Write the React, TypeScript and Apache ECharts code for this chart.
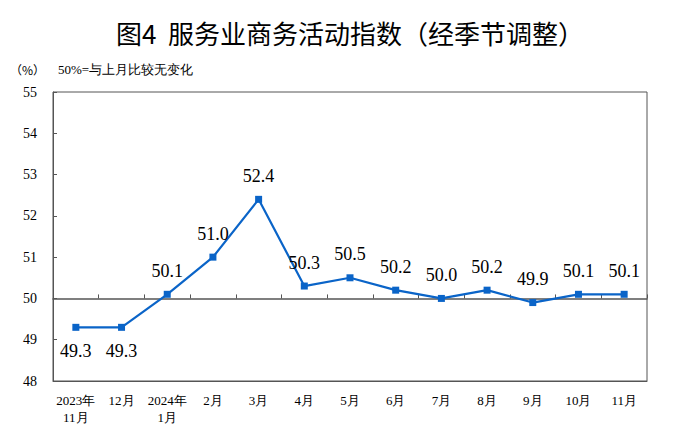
import React, { useEffect, useRef } from "react";
import * as echarts from "echarts";

const categories = [
  "2023年\n11月", "12月", "2024年\n1月", "2月", "3月", "4月", "5月",
  "6月", "7月", "8月", "9月", "10月", "11月",
];
const values = [49.3, 49.3, 50.1, 51.0, 52.4, 50.3, 50.5, 50.2, 50.0, 50.2, 49.9, 50.1, 50.1];
const labelBelow = [true, true, false, false, false, false, false, false, false, false, false, false, false];
const titleText = "图4  服务业商务活动指数（经季节调整）";
const unitText = "（%）";
const noteText = "50%=与上月比较无变化";

const SERIF = "Liberation Serif";

export default function App() {
  const ref = useRef<HTMLDivElement>(null);
  useEffect(() => {
    if (!ref.current) return;
    const chart = echarts.init(ref.current, null, { renderer: "svg" });
    const gridTop = 92, gridBottom = 53;
    const h = 434 - gridTop - gridBottom;
    const yMin = 48, yMax = 55;
    const midOffset = -((50 - yMin) / (yMax - yMin)) * h;
    chart.setOption({
      animation: false,
      backgroundColor: "#fff",
      title: {
        text: titleText,
        left: "center",
        top: 14,
        textStyle: { fontFamily: "Noto Sans CJK SC", fontSize: 26, fontWeight: "normal", color: "#000" },
      },
      graphic: [
        { type: "text", left: 10, top: 63, style: { text: unitText, fontFamily: "Noto Sans CJK SC", fontSize: 12, fill: "#000" } },
        { type: "text", left: 58, top: 63, style: { text: noteText, fontFamily: SERIF, fontSize: 13, fill: "#000" } },
      ],
      grid: { left: 53, right: 53, top: gridTop, bottom: gridBottom, show: true, borderColor: "#555", borderWidth: 1 },
      xAxis: [
        {
          type: "category",
          data: categories,
          boundaryGap: true,
          axisLine: { show: true, lineStyle: { color: "#555" } },
          axisTick: { show: false },
          axisLabel: { color: "#000", fontFamily: SERIF, fontSize: 13, margin: 11, lineHeight: 17, interval: 0 },
        },
        {
          type: "category",
          data: categories,
          position: "bottom",
          offset: midOffset,
          boundaryGap: true,
          axisLine: { show: true, lineStyle: { color: "#555", width: 1.5 } },
          axisTick: { show: true, inside: true, length: 4, lineStyle: { color: "#555" }, interval: 0 },
          axisLabel: { show: false },
        },
      ],
      yAxis: {
        type: "value",
        min: yMin,
        max: yMax,
        interval: 1,
        splitLine: { show: false },
        axisLine: { show: true, lineStyle: { color: "#555" } },
        axisTick: { show: true, inside: true, length: 4, lineStyle: { color: "#555" } },
        axisLabel: { color: "#000", fontFamily: SERIF, fontSize: 14, margin: 16 },
      },
      series: [
        {
          type: "line",
          xAxisIndex: 0,
          data: values.map((v, i) => ({
            value: v,
            label: { position: labelBelow[i] ? "bottom" : "top" },
          })),
          symbol: "rect",
          symbolSize: 7,
          lineStyle: { color: "#0a64c8", width: 2.2 },
          itemStyle: { color: "#0a64c8" },
          label: {
            show: true,
            distance: 11,
            fontFamily: SERIF,
            fontSize: 18,
            color: "#000",
            formatter: (p: any) => Number(p.value).toFixed(1),
          },
        },
      ],
    });
    return () => chart.dispose();
  }, []);
  return <div ref={ref} style={{ position: "fixed", left: 0, top: 0, width: 700, height: 434 }} />;
}
